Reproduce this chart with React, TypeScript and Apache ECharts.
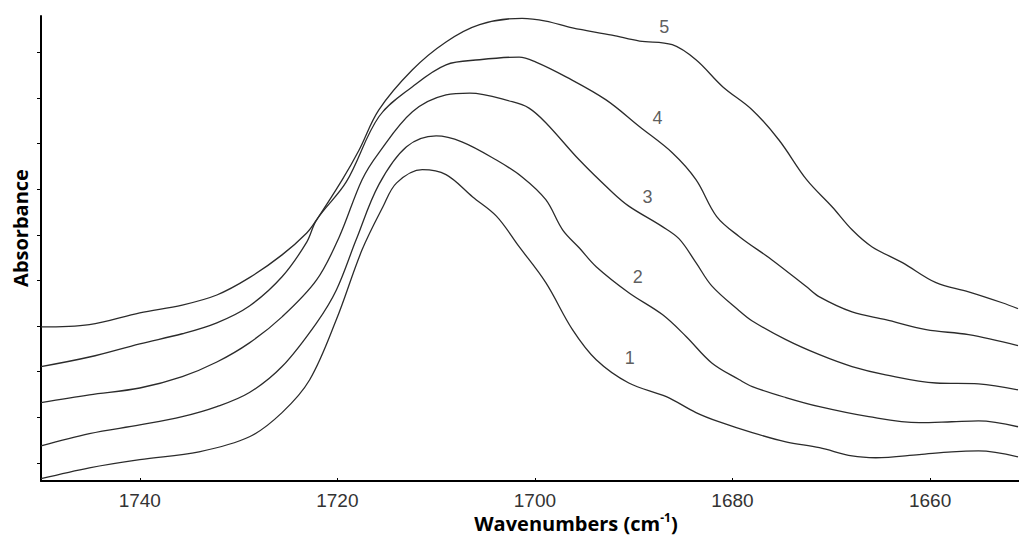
import React, { useEffect, useRef } from "react";
import * as echarts from "echarts";

// Curve 1 (lowest)
const curve1Wn = [1750.0, 1745.1, 1740.0, 1734.0, 1728.9, 1725.6, 1722.8, 1720.1, 1717.5, 1715.4, 1714.0, 1711.4, 1709.0, 1706.3, 1703.9, 1701.6, 1698.9, 1696.2, 1693.8, 1690.5, 1686.7, 1683.7, 1681.4, 1678.0, 1674.6, 1671.2, 1667.9, 1665.5, 1661.1, 1657.8, 1655.1, 1651.1];
const curve1Abs = [-0.035, -0.011, 0.007, 0.024, 0.057, 0.110, 0.182, 0.314, 0.467, 0.561, 0.614, 0.643, 0.632, 0.583, 0.541, 0.474, 0.395, 0.292, 0.226, 0.175, 0.145, 0.110, 0.090, 0.066, 0.046, 0.033, 0.015, 0.011, 0.018, 0.024, 0.026, 0.013];

// Curve 2
const curve2Wn = [1750.0, 1745.1, 1740.0, 1735.7, 1732.2, 1728.9, 1725.6, 1722.1, 1720.1, 1718.1, 1715.8, 1713.0, 1710.0, 1707.4, 1703.9, 1701.3, 1698.9, 1697.2, 1695.5, 1693.8, 1690.5, 1687.1, 1684.7, 1682.1, 1679.3, 1678.0, 1674.6, 1671.2, 1666.2, 1661.1, 1657.8, 1655.1, 1651.1];
const curve2Abs = [0.037, 0.064, 0.083, 0.101, 0.123, 0.154, 0.211, 0.307, 0.379, 0.489, 0.610, 0.693, 0.717, 0.704, 0.664, 0.627, 0.577, 0.511, 0.471, 0.430, 0.373, 0.325, 0.277, 0.219, 0.182, 0.167, 0.143, 0.123, 0.101, 0.088, 0.090, 0.092, 0.079];

// Curve 3
const curve3Wn = [1750.0, 1745.1, 1740.0, 1735.7, 1732.2, 1728.9, 1725.6, 1722.1, 1719.8, 1717.5, 1715.8, 1712.4, 1709.0, 1706.6, 1702.3, 1700.6, 1698.9, 1695.5, 1692.2, 1690.5, 1687.1, 1685.4, 1683.7, 1682.1, 1679.3, 1678.0, 1674.6, 1671.2, 1667.9, 1664.5, 1659.4, 1655.1, 1651.1];
const curve3Abs = [0.132, 0.149, 0.164, 0.189, 0.221, 0.263, 0.320, 0.401, 0.496, 0.621, 0.680, 0.770, 0.807, 0.811, 0.792, 0.778, 0.746, 0.664, 0.594, 0.563, 0.518, 0.491, 0.439, 0.388, 0.333, 0.311, 0.270, 0.237, 0.211, 0.193, 0.175, 0.173, 0.160];

// Curve 4
const curve4Wn = [1750.0, 1745.1, 1740.0, 1735.7, 1732.2, 1728.9, 1725.6, 1723.1, 1722.1, 1719.1, 1715.8, 1712.4, 1709.0, 1705.6, 1701.6, 1699.9, 1696.8, 1692.8, 1689.4, 1686.1, 1683.7, 1681.6, 1679.3, 1676.0, 1672.5, 1671.2, 1667.9, 1664.5, 1660.4, 1656.1, 1651.1];
const curve4Abs = [0.211, 0.232, 0.261, 0.283, 0.307, 0.344, 0.408, 0.484, 0.533, 0.616, 0.759, 0.825, 0.873, 0.884, 0.890, 0.879, 0.846, 0.796, 0.737, 0.680, 0.621, 0.540, 0.496, 0.445, 0.386, 0.364, 0.331, 0.314, 0.292, 0.281, 0.257];

// Curve 5 (highest)
const curve5Wn = [1750.0, 1745.1, 1740.0, 1735.7, 1732.2, 1728.9, 1725.6, 1723.1, 1722.1, 1719.5, 1717.8, 1715.8, 1712.4, 1709.0, 1705.6, 1701.3, 1698.9, 1696.2, 1692.2, 1689.4, 1686.1, 1683.7, 1681.0, 1678.0, 1675.3, 1672.5, 1669.9, 1667.9, 1665.9, 1662.8, 1659.4, 1656.1, 1652.7, 1651.1];
const curve5Abs = [0.298, 0.303, 0.329, 0.346, 0.368, 0.406, 0.456, 0.504, 0.533, 0.621, 0.686, 0.774, 0.862, 0.923, 0.961, 0.975, 0.969, 0.954, 0.938, 0.925, 0.917, 0.884, 0.825, 0.774, 0.708, 0.621, 0.561, 0.511, 0.474, 0.439, 0.395, 0.375, 0.351, 0.338];

const curveNames = ["1", "2", "3", "4", "5"];
const labelWn = [1690.4, 1689.6, 1688.6, 1687.6, 1686.9];
const labelAbs = [0.23, 0.408, 0.583, 0.757, 0.956];

const xTicks = [1740, 1720, 1700, 1680, 1660];
const yTicks = [0, 0.1, 0.2, 0.3, 0.4, 0.5, 0.6, 0.7, 0.8, 0.9];

const curvesWn = [curve1Wn, curve2Wn, curve3Wn, curve4Wn, curve5Wn];
const curvesAbs = [curve1Abs, curve2Abs, curve3Abs, curve4Abs, curve5Abs];

export default function App() {
  const ref = useRef<HTMLDivElement | null>(null);

  useEffect(() => {
    if (!ref.current) return;
    const chart = echarts.init(ref.current, undefined, { renderer: "svg" });

    const lineSeries = curvesWn.map((wn, i) => ({
      type: "line",
      name: curveNames[i],
      data: wn.map((x, j) => [x, curvesAbs[i][j]]),
      showSymbol: false,
      symbol: "none",
      smooth: 0.35,
      lineStyle: { color: "#2b2b2b", width: 1.3 },
      z: 2,
    }));

    const labelSeries = {
      type: "scatter",
      data: labelWn.map((x, i) => [x, labelAbs[i], curveNames[i]]),
      symbolSize: 1,
      itemStyle: { color: "rgba(0,0,0,0)" },
      label: {
        show: true,
        position: "inside",
        formatter: (p: any) => p.value[2],
        color: "#333",
        fontSize: 18,
        fontFamily: "Liberation Sans, Arial, sans-serif",
      },
      z: 3,
    };

    chart.setOption({
      animation: false,
      backgroundColor: "#ffffff",
      grid: { left: 41, right: 0, top: 16, bottom: 60, containLabel: false, outerBoundsMode: "none" },
      xAxis: {
        type: "value",
        inverse: true,
        min: 1651,
        max: 1750,
        axisLine: { show: true, onZero: false, lineStyle: { color: "#000", width: 2 } },
        axisTick: { show: true, inside: true, length: 3, customValues: xTicks, lineStyle: { color: "#000", width: 1 } },
        axisLabel: {
          show: true,
          customValues: xTicks,
          formatter: (v: number) => String(Math.round(v)),
          color: "#333",
          fontSize: 19,
          margin: 10,
          fontFamily: "Liberation Sans, Arial, sans-serif",
        },
        splitLine: { show: false },
      },
      yAxis: {
        type: "value",
        min: -0.04,
        max: 0.98,
        axisLine: { show: true, onZero: false, lineStyle: { color: "#000", width: 2 } },
        axisTick: { show: true, inside: false, length: 4, customValues: yTicks, lineStyle: { color: "#000", width: 1 } },
        axisLabel: { show: false },
        splitLine: { show: false },
      },
      graphic: [
        {
          type: "text",
          x: 20,
          y: 228,
          rotation: Math.PI / 2,
          style: {
            text: "Absorbance",
            fill: "#000",
            font: "bold 20px 'Open Sans', sans-serif",
            align: "center",
            verticalAlign: "middle",
          },
        },
        {
          type: "text",
          x: 576,
          y: 523,
          style: {
            text: "{a|Wavenumbers (cm}{s|-1}{a|)}",
            align: "center",
            verticalAlign: "middle",
            rich: {
              a: { fontSize: 20, fontWeight: "bold", fontFamily: "Open Sans, sans-serif", fill: "#000", lineHeight: 24 },
              s: { fontSize: 12, fontWeight: "bold", fontFamily: "Open Sans, sans-serif", fill: "#000", lineHeight: 24, verticalAlign: "top" },
            },
          },
        },
      ],
      series: [...lineSeries, labelSeries],
    });

    return () => chart.dispose();
  }, []);

  return (
    <div
      ref={ref}
      style={{ position: "absolute", left: 0, top: 0, width: 1019, height: 541, background: "#fff" }}
    />
  );
}
